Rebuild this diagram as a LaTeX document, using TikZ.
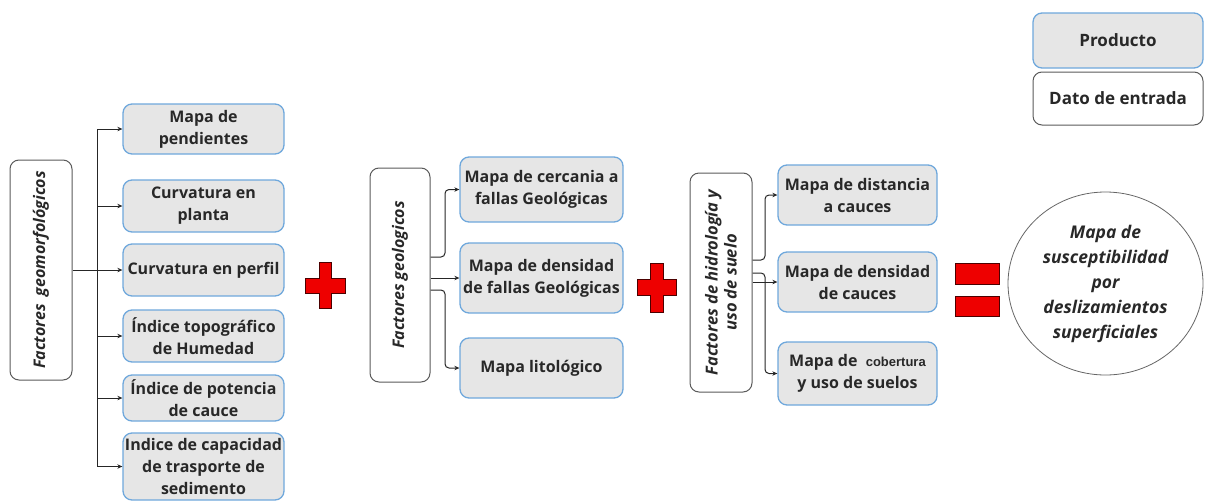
\documentclass[tikz,border=0pt]{standalone}
\usepackage{fontspec}
\setmainfont{Open Sans}
\newfontfamily\arialf{Liberation Sans}
\usetikzlibrary{arrows.meta,shapes.geometric}
\definecolor{boxfill}{RGB}{230,230,230}
\definecolor{boxblue}{RGB}{111,168,220}
\definecolor{boxgray}{RGB}{90,90,90}
\definecolor{plusred}{RGB}{238,0,0}
\definecolor{txt}{RGB}{40,40,40}
\tikzset{
  prod/.style={draw=boxblue, fill=boxfill, line width=1.3pt, rounded corners=9pt,
    align=center, inner sep=1pt, text=txt, font=\fontsize{16}{22}\selectfont\bfseries},
  inp/.style={draw=boxgray, fill=white, line width=1pt, rounded corners=9pt,
    align=center, inner sep=1pt, text=txt, font=\fontsize{16}{22}\selectfont\bfseries},
  fact/.style={inp, font=\fontsize{16}{20}\selectfont\bfseries\itshape},
  conn/.style={draw=black!85, line width=1pt},
  arr/.style={conn, -{Stealth[length=5pt,width=4.5pt]}},
  redshape/.style={fill=plusred, draw=black!70!red, line width=1pt}
}
\begin{document}
\begin{tikzpicture}[x=1pt,y=-1pt]
\useasboundingbox (0,0) rectangle (1205,501);

% Legend
\node[prod, minimum width=170pt, minimum height=55pt, font=\fontsize{17}{22}\selectfont\bfseries] (leg1) at (1118,40.5) {Producto};
\node[inp, minimum width=170pt, minimum height=53pt, font=\fontsize{17}{22}\selectfont\bfseries] (leg2) at (1118,98.5) {Dato de entrada};

% Group 1: geomorphological
\node[fact, minimum width=220pt, minimum height=62pt, rotate=90] (gm) at (41,270) {Factores\ \ geomorfológicos};
\node[prod, minimum width=161pt, minimum height=50pt] (b1) at (203.5,129) {Mapa de\\pendientes};
\node[prod, minimum width=161pt, minimum height=52pt] (b2) at (203.5,206) {Curvatura en\\planta};
\node[prod, minimum width=161pt, minimum height=52pt] (b3) at (203.5,270) {Curvatura en perfil};
\node[prod, minimum width=161pt, minimum height=52pt] (b4) at (203.5,336) {Índice topográfico\\de Humedad};
\node[prod, minimum width=161pt, minimum height=46pt] (b5) at (203.5,398) {Índice de potencia\\de cauce};
\node[prod, minimum width=161pt, minimum height=67pt] (b6) at (203.5,466.5) {Indice de capacidad\\de trasporte de\\sedimento};

\coordinate (lt) at (97,270);
\draw[conn] (gm.south |- lt) -- (lt);
\draw[conn] (lt |- b1.west) -- (lt |- b6.west);
\foreach \n in {b1,b2,b3,b4,b5,b6}{
  \draw[arr] (lt |- \n.west) -- (\n.west);
}

% Plus 1
\path[redshape] (319,262) -- (331,262) -- (331,278) -- (345,278) -- (345,293) -- (331,293)
  -- (331,308) -- (319,308) -- (319,293) -- (305,293) -- (305,278) -- (319,278) -- cycle;

% Group 2: geological
\node[fact, minimum width=214pt, minimum height=60pt, rotate=90] (geo) at (400,275) {Factores geologicos};
\node[prod, minimum width=163pt, minimum height=65pt] (g1) at (541.5,189.5) {Mapa de cercania a\\fallas Geológicas};
\node[prod, minimum width=163pt, minimum height=70pt] (g2) at (541.5,278) {Mapa de densidad\\de fallas Geológicas};
\node[prod, minimum width=163pt, minimum height=60pt] (g3) at (541.5,368) {Mapa litológico};

\coordinate (gt) at (445,257);
\coordinate (gb) at (445,290);
\draw[arr, rounded corners=4pt] (geo.south |- gt) -- (gt) |- (g1.west);
\draw[arr] (geo.south |- g2.west) -- (g2.west);
\draw[arr, rounded corners=4pt] (geo.south |- gb) -- (gb) |- (g3.west);

% Plus 2
\path[redshape] (650,263) -- (663,263) -- (663,279) -- (676,279) -- (676,295) -- (663,295)
  -- (663,312) -- (650,312) -- (650,295) -- (637,295) -- (637,279) -- (650,279) -- cycle;

% Group 3: hydrology
\node[fact, minimum width=219pt, minimum height=62pt, rotate=90, font=\fontsize{16.5}{19}\selectfont\bfseries\itshape] (hy) at (721,282.5) {Factores de hidrología y\\uso de suelo};
\node[prod, minimum width=159pt, minimum height=60pt] (h1) at (857.5,195) {Mapa de distancia\\a cauces};
\node[prod, minimum width=159pt, minimum height=60pt] (h2) at (857.5,282) {Mapa de densidad\\de cauces};
\node[prod, minimum width=159pt, minimum height=63pt] (h3) at (857.5,373.5) {Mapa de \ {\arialf\fontsize{13}{14}\selectfont cobertura}\\y uso de suelos};

\coordinate (ht) at (765,260);
\coordinate (hb) at (765,273);
\draw[arr, rounded corners=4pt] (hy.south |- ht) -- (ht) |- (h1.west);
\draw[arr] (hy.south |- h2.west) -- (h2.west);
\draw[arr, rounded corners=4pt] (hy.south |- hb) -- (hb) |- (h3.west);

% Equals
\path[redshape] (955,263) rectangle (999,284);
\path[redshape] (955,296) rectangle (999,316);

% Result
\node[ellipse, draw=black!60, line width=0.8pt, minimum width=195pt, minimum height=183pt,
  align=center, text=txt, inner sep=0pt, font=\fontsize{17.5}{25}\selectfont\bfseries\itshape] (res) at (1105.5,283.5)
  {Mapa de\\susceptibilidad\\por\\deslizamientos\\superficiales};
\end{tikzpicture}
\end{document}
